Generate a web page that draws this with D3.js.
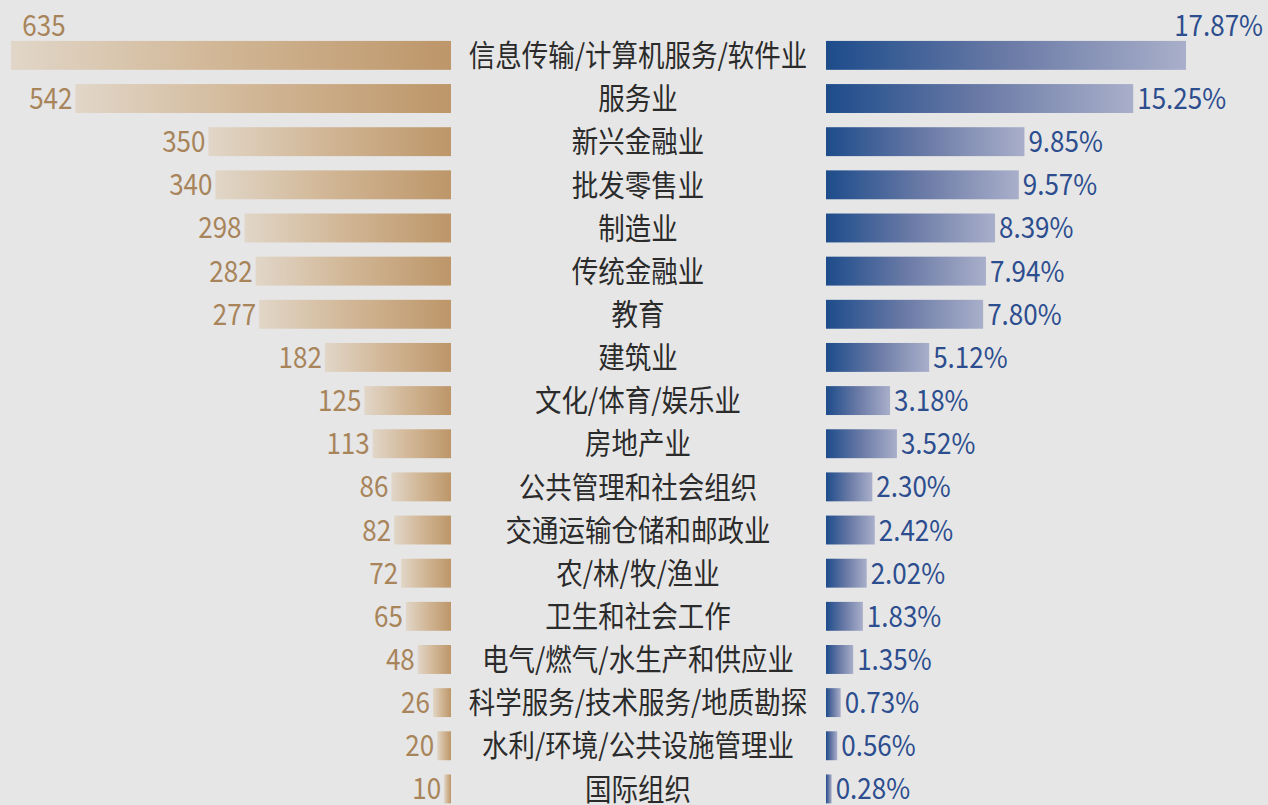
<!DOCTYPE html>
<html>
<head>
<meta charset="utf-8">
<script src="https://cdn.jsdelivr.net/npm/d3@7"></script>
<style>
  body { margin: 0; background: #e6e6e6; }
  svg { display: block; }
  text { font-family: "Noto Sans CJK SC", "Noto Sans", sans-serif; }
</style>
</head>
<body>
<div id="chart"></div>
<script>
// industries, company counts (left) and share (right)
let industries = ["信息传输/计算机服务/软件业", "服务业", "新兴金融业", "批发零售业", "制造业",
  "传统金融业", "教育", "建筑业", "文化/体育/娱乐业", "房地产业", "公共管理和社会组织",
  "交通运输仓储和邮政业", "农/林/牧/渔业", "卫生和社会工作", "电气/燃气/水生产和供应业",
  "科学服务/技术服务/地质勘探", "水利/环境/公共设施管理业", "国际组织"];
let counts = [635, 542, 350, 340, 298, 282, 277, 182, 125, 113, 86, 82, 72, 65, 48, 26, 20, 10];
let shares = [17.87, 15.25, 9.85, 9.57, 8.39, 7.94, 7.80, 5.12, 3.18, 3.52, 2.30, 2.42, 2.02, 1.83, 1.35, 0.73, 0.56, 0.28];

let svgWidth = 1268;
let svgHeight = 805;

let leftEdge = 451;   // left bars grow leftwards from here
let rightEdge = 826;  // right bars grow rightwards from here
let midX = 638;
let stretch = 1.12;   // text in the original looks a bit tall

let svg = d3.select("#chart")
  .append("svg")
  .attr("width", svgWidth)
  .attr("height", svgHeight);

let rows = industries.map((name, i) => ({ name: name, count: counts[i], share: shares[i], i: i }));

// scales
let step = 43.15;
let yScale = d3.scaleBand()
  .domain(d3.range(industries.length))
  .range([33.8, 33.8 + step * industries.length])
  .paddingInner(0.33)
  .paddingOuter(0.165);

let countScale = d3.scaleLinear().domain([0, 635]).range([0, 440]);
let shareScale = d3.scaleLinear().domain([0, 17.87]).range([0, 360]);

// gradients
let defs = svg.append("defs");
let gold = defs.append("linearGradient").attr("id", "gold")
  .attr("x1", "0%").attr("x2", "100%").attr("y1", "0%").attr("y2", "0%");
gold.append("stop").attr("offset", "0%").attr("stop-color", "#e1d6c8");
gold.append("stop").attr("offset", "45%").attr("stop-color", "#d2b898");
gold.append("stop").attr("offset", "100%").attr("stop-color", "#bd9669");

let blue = defs.append("linearGradient").attr("id", "blue")
  .attr("x1", "0%").attr("x2", "100%").attr("y1", "0%").attr("y2", "0%");
blue.append("stop").attr("offset", "0%").attr("stop-color", "#1d4c8b");
blue.append("stop").attr("offset", "50%").attr("stop-color", "#6a7aa6");
blue.append("stop").attr("offset", "100%").attr("stop-color", "#a9afca");

let bh = yScale.bandwidth();

// left bars
svg.selectAll(".leftBar")
  .data(rows)
  .enter()
  .append("rect")
  .attr("class", "leftBar")
  .attr("x", d => leftEdge - countScale(d.count))
  .attr("y", d => yScale(d.i))
  .attr("width", d => countScale(d.count))
  .attr("height", bh)
  .attr("fill", "url(#gold)");

// right bars
svg.selectAll(".rightBar")
  .data(rows)
  .enter()
  .append("rect")
  .attr("class", "rightBar")
  .attr("x", rightEdge)
  .attr("y", d => yScale(d.i))
  .attr("width", d => shareScale(d.share))
  .attr("height", bh)
  .attr("fill", "url(#blue)");

// helper: place a text at (x, y) and stretch it a little vertically
function place(sel, fx, fy) {
  sel.attr("transform", d => `translate(${fx(d)}, ${fy(d)}) scale(1, ${stretch})`);
}

// count labels (the biggest one sits above its bar)
svg.selectAll(".countText")
  .data(rows)
  .enter()
  .append("text")
  .attr("class", "countText")
  .attr("dy", d => d.i === 0 ? "0" : "0.36em")
  .attr("text-anchor", d => d.i === 0 ? "middle" : "end")
  .attr("font-size", "26px")
  .attr("fill", "#a8845a")
  .text(d => d.count)
  .call(place,
    d => d.i === 0 ? 44 : leftEdge - countScale(d.count) - 3,
    d => d.i === 0 ? yScale(d.i) - 5 : yScale(d.i) + bh / 2);

// share labels
svg.selectAll(".shareText")
  .data(rows)
  .enter()
  .append("text")
  .attr("class", "shareText")
  .attr("dy", d => d.i === 0 ? "0" : "0.36em")
  .attr("text-anchor", d => d.i === 0 ? "end" : "start")
  .attr("font-size", "26px")
  .attr("fill", "#2c4d8e")
  .text(d => d.share.toFixed(2) + "%")
  .call(place,
    d => d.i === 0 ? 1263 : rightEdge + shareScale(d.share) + 4,
    d => d.i === 0 ? yScale(d.i) - 5 : yScale(d.i) + bh / 2);

// industry names
svg.selectAll(".nameText")
  .data(rows)
  .enter()
  .append("text")
  .attr("class", "nameText")
  .attr("dy", "0.36em")
  .attr("text-anchor", "middle")
  .attr("font-size", "26.5px")
  .attr("fill", "#2b2b2b")
  .text(d => d.name)
  .call(place, d => midX, d => yScale(d.i) + bh / 2);
</script>
</body>
</html>
